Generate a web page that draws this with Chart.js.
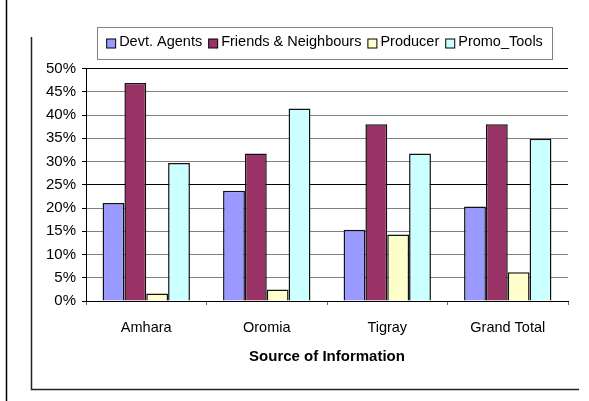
<!DOCTYPE html>
<html>
<head>
<meta charset="utf-8">
<script src="https://cdn.jsdelivr.net/npm/chart.js@4/dist/chart.umd.min.js"></script>
<style>
  html, body { margin: 0; padding: 0; background: #fff; }
  #wrap { position: relative; width: 589px; height: 401px; }
  canvas { display: block; }
</style>
</head>
<body>
<div id="wrap"><canvas id="c" width="589" height="401"></canvas></div>
<script>
const categories = ['Amhara', 'Oromia', 'Tigray', 'Grand Total'];
const seriesNames = ['Devt. Agents', 'Friends & Neighbours', 'Producer', 'Promo_Tools'];
const devtAgents = [21.1, 23.7, 15.3, 20.3];
const friendsNeighbours = [46.9, 31.7, 38.0, 38.0];
const producer = [1.6, 2.5, 14.3, 6.2];
const promoTools = [29.7, 41.4, 31.7, 34.9];
const yTicks = [0, 5, 10, 15, 20, 25, 30, 35, 40, 45, 50];
const xTitle = 'Source of Information';

const colors = ['#9999FF', '#993366', '#FFFFCC', '#CCFFFF'];
const seriesValues = [devtAgents, friendsNeighbours, producer, promoTools];

const FONT = 'Liberation Sans, Arial, sans-serif';

const framePlugin = {
  id: 'frame',
  beforeDraw(chart) {
    const ctx = chart.ctx;
    ctx.save();
    ctx.fillStyle = '#fff';
    ctx.fillRect(0, 0, chart.width, chart.height);
    ctx.strokeStyle = '#000';
    ctx.lineWidth = 1.5;
    ctx.beginPath();
    ctx.moveTo(6.5, 0); ctx.lineTo(6.5, 401);
    ctx.stroke();
    ctx.strokeStyle = '#222';
    ctx.lineWidth = 1.5;
    ctx.beginPath();
    ctx.moveTo(31.5, 37); ctx.lineTo(31.5, 389.5); ctx.lineTo(579, 389.5);
    ctx.stroke();
    ctx.restore();
  }
};

const legendPlugin = {
  id: 'boxLegend',
  afterDraw(chart) {
    const ctx = chart.ctx;
    ctx.save();
    const bx = 97, by = 27, bw = 455, bh = 32;
    ctx.strokeStyle = '#808080';
    ctx.lineWidth = 1;
    ctx.strokeRect(bx + 0.5, by + 0.5, bw, bh);
    ctx.font = '14.5px ' + FONT;
    ctx.textBaseline = 'middle';
    const box = 9, gap = 4, spacing = 6;
    const items = chart.data.datasets.map(d => ({label: d.label, color: d.backgroundColor, w: ctx.measureText(d.label).width}));
    let total = 0;
    items.forEach((it, i) => { total += box + gap + it.w + (i < items.length - 1 ? spacing : 0); });
    let x = bx + (bw - total) / 2;
    const cy = by + bh / 2 - 1;
    items.forEach(it => {
      ctx.fillStyle = it.color;
      ctx.fillRect(x + 0.5, cy - box / 2 + 1.5, box, box);
      ctx.strokeStyle = '#000';
      ctx.strokeRect(x + 0.5, cy - box / 2 + 1.5, box, box);
      ctx.fillStyle = '#000';
      ctx.fillText(it.label, x + box + gap, cy);
      x += box + gap + it.w + spacing;
    });
    ctx.restore();
  }
};

new Chart(document.getElementById('c'), {
  type: 'bar',
  data: {
    labels: categories,
    datasets: seriesNames.map((name, i) => ({
      label: name,
      data: seriesValues[i],
      backgroundColor: colors[i],
      borderColor: '#111',
      borderWidth: 1.5,
      categoryPercentage: 0.725,
      barPercentage: 1.0
    }))
  },
  options: {
    responsive: false,
    animation: false,
    devicePixelRatio: 1,
    layout: { padding: { left: 0, right: 21, top: 68.5, bottom: 0 } },
    plugins: { legend: { display: false }, tooltip: { enabled: false } },
    scales: {
      x: {
        grid: { drawOnChartArea: false, drawTicks: true, tickLength: 4, tickColor: '#666', offset: true },
        border: { display: true, color: '#000', width: 1 },
        ticks: { color: '#000', font: { family: FONT, size: 14.5 }, padding: 14, maxRotation: 0 },
        title: { display: true, text: xTitle, color: '#000', font: { family: FONT, size: 15, weight: 'bold' }, padding: { top: 0, bottom: 35 } },
        afterFit(scale) { scale.height = 100; }
      },
      y: {
        min: 0, max: 50,
        afterBuildTicks(scale) { scale.ticks = yTicks.map(v => ({ value: v })); },
        grid: {
          drawTicks: true, tickLength: 4, tickColor: '#000',
          color: ctx => (ctx.tick && (ctx.tick.value === 50 || ctx.tick.value === 25)) ? '#000' : '#808080',
          lineWidth: 1
        },
        border: { display: true, color: '#000', width: 1 },
        ticks: { color: '#000', font: { family: FONT, size: 15 }, padding: 6, callback: v => v + '%' },
        afterFit(scale) { scale.width = 86; }
      }
    }
  },
  plugins: [framePlugin, legendPlugin]
});
</script>
</body>
</html>
